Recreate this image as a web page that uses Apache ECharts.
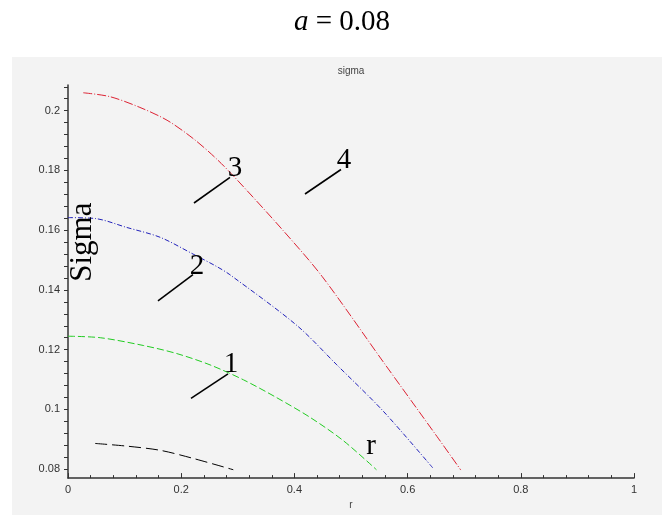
<!DOCTYPE html>
<html>
<head>
<meta charset="utf-8">
<script src="https://cdn.jsdelivr.net/npm/echarts@6/dist/echarts.min.js"></script>
<style>
  html, body { margin: 0; padding: 0; background: #fff; }
  #chart-container { width: 662px; height: 515px; }
</style>
</head>
<body>
<div id="chart-container"></div>
<script>
// curves: r values and sigma values
var blackR = [0.048, 0.104, 0.163, 0.221, 0.292];
var blackS = [0.0886, 0.0877, 0.0863, 0.0836, 0.0798];

var greenR = [0, 0.057, 0.133, 0.192, 0.251, 0.310, 0.369, 0.428, 0.486, 0.545];
var greenS = [0.1245, 0.1240, 0.1214, 0.1187, 0.1149, 0.1099, 0.1039, 0.0973, 0.0896, 0.0798];

var blueR = [0, 0.048, 0.104, 0.163, 0.221, 0.263, 0.286, 0.405, 0.475, 0.557, 0.645];
var blueS = [0.1642, 0.1639, 0.1609, 0.1576, 0.1520, 0.1478, 0.1451, 0.1280, 0.1149, 0.0994, 0.0803];

var redR = [0.027, 0.074, 0.127, 0.175, 0.221, 0.260, 0.295, 0.380, 0.449, 0.557, 0.652, 0.694];
var redS = [0.2060, 0.2047, 0.2011, 0.1968, 0.1907, 0.1843, 0.1776, 0.1599, 0.1445, 0.1159, 0.0909, 0.0797];

var xTicks = [0, 0.2, 0.4, 0.6, 0.8, 1];
var yTicks = [0.08, 0.1, 0.12, 0.14, 0.16, 0.18, 0.2];

// curve labels with leader lines, in data units (r, sigma)
var notes = [
  { text: '1', at: [0.288, 0.1149], from: [0.2173, 0.1037], to: [0.2827, 0.1119] },
  { text: '2', at: [0.2279, 0.1478], from: [0.1590, 0.1363], to: [0.2208, 0.1451] },
  { text: '3', at: [0.2950, 0.1807], from: [0.2226, 0.1691], to: [0.2862, 0.1777] },
  { text: '4', at: [0.4876, 0.1833], from: [0.4187, 0.1721], to: [0.4823, 0.1803] },
  { text: 'r', at: [0.5353, 0.0876] }
];

function pairs(xs, ys) {
  return xs.map(function (x, i) { return [x, ys[i]]; });
}

// y ticks every 0.004 (4 minor steps between labels)
var yMinor = [];
for (var k = 0; k <= 32; k++) yMinor.push(+(0.08 + k * 0.004).toFixed(3));

var dom = document.getElementById('chart-container');
var myChart = echarts.init(dom, null, { renderer: 'canvas' });

function curve(name, xs, ys, color, dash) {
  return {
    name: name,
    type: 'line',
    data: pairs(xs, ys),
    smooth: 0.3,
    symbol: 'none',
    lineStyle: { color: color, width: 1, type: dash },
    z: 3
  };
}

var option = {
  backgroundColor: '#ffffff',
  animation: false,
  title: [
    {
      text: '{i|a} = 0.08',
      left: 337,
      top: 3,
      textAlign: 'center',
      textStyle: {
        fontFamily: 'Liberation Serif',
        fontSize: 29,
        fontWeight: 'normal',
        color: '#000',
        rich: { i: { fontFamily: 'Liberation Serif', fontStyle: 'italic', fontSize: 29, color: '#000' } }
      }
    },
    {
      text: 'sigma',
      left: 346,
      top: 61,
      textAlign: 'center',
      textStyle: { fontFamily: 'Liberation Sans', fontSize: 10, fontWeight: 'normal', color: '#444' }
    }
  ],
  grid: { left: 68, right: 28, top: 85, bottom: 30, containLabel: false },
  xAxis: {
    type: 'value',
    min: 0,
    max: 1,
    interval: 0.2,
    name: 'r',
    nameLocation: 'middle',
    nameGap: 19,
    nameTextStyle: { fontFamily: 'Liberation Sans', fontSize: 10, color: '#444' },
    axisLine: { lineStyle: { color: '#333', width: 1.5 } },
    axisTick: { inside: true, length: 5, lineStyle: { color: '#333' } },
    minorTick: { show: true, splitNumber: 5, length: 3, lineStyle: { color: '#333' } },
    axisLabel: {
      margin: 6,
      fontFamily: 'Liberation Sans',
      fontSize: 11,
      color: '#333',
      customValues: xTicks
    },
    splitLine: { show: false }
  },
  yAxis: {
    type: 'value',
    min: 0.077,
    max: 0.2086,
    axisLine: { show: true, lineStyle: { color: '#333', width: 1.5 } },
    axisTick: { show: true, length: 4, lineStyle: { color: '#333' }, customValues: yMinor },
    axisLabel: {
      margin: 8,
      fontFamily: 'Liberation Sans',
      fontSize: 11,
      color: '#333',
      customValues: yTicks
    },
    splitLine: { show: false }
  },
  series: [
    curve('1', blackR, blackS, '#000000', [12, 5]),
    curve('2', greenR, greenS, '#22cc22', [7, 3]),
    curve('3', blueR, blueS, '#2222bb', [5, 2, 1, 2]),
    curve('4', redR, redS, '#dd2233', [9, 2, 1, 2])
  ]
};

myChart.setOption(option);

// background panel plus labels placed through the chart's own scales
function drawNotes() {
  var g = [{
    type: 'rect',
    z: -10,
    shape: { x: 12, y: 57, width: 650, height: 458 },
    style: { fill: '#f3f3f3' }
  }];
  notes.forEach(function (n) {
    var p = myChart.convertToPixel({ gridIndex: 0 }, n.at);
    g.push({
      type: 'text',
      x: p[0],
      y: p[1],
      z: 10,
      style: {
        text: n.text,
        fontFamily: 'Liberation Serif',
        fontSize: 29,
        fill: '#000',
        align: 'center',
        verticalAlign: 'middle'
      }
    });
    if (n.from) {
      var a = myChart.convertToPixel({ gridIndex: 0 }, n.from);
      var b = myChart.convertToPixel({ gridIndex: 0 }, n.to);
      g.push({
        type: 'line',
        z: 10,
        shape: { x1: a[0], y1: a[1], x2: b[0], y2: b[1] },
        style: { stroke: '#000', lineWidth: 1.6 }
      });
    }
  });
  var s = myChart.convertToPixel({ gridIndex: 0 }, [0.0265, 0.156]);
  g.push({
    type: 'text',
    x: s[0],
    y: s[1],
    rotation: Math.PI / 2,
    z: 10,
    style: {
      text: 'Sigma',
      fontFamily: 'Liberation Serif',
      fontSize: 31,
      fill: '#000',
      align: 'center',
      verticalAlign: 'middle'
    }
  });
  myChart.setOption({ graphic: g });
}
drawNotes();

window.addEventListener('resize', myChart.resize);
</script>
</body>
</html>
